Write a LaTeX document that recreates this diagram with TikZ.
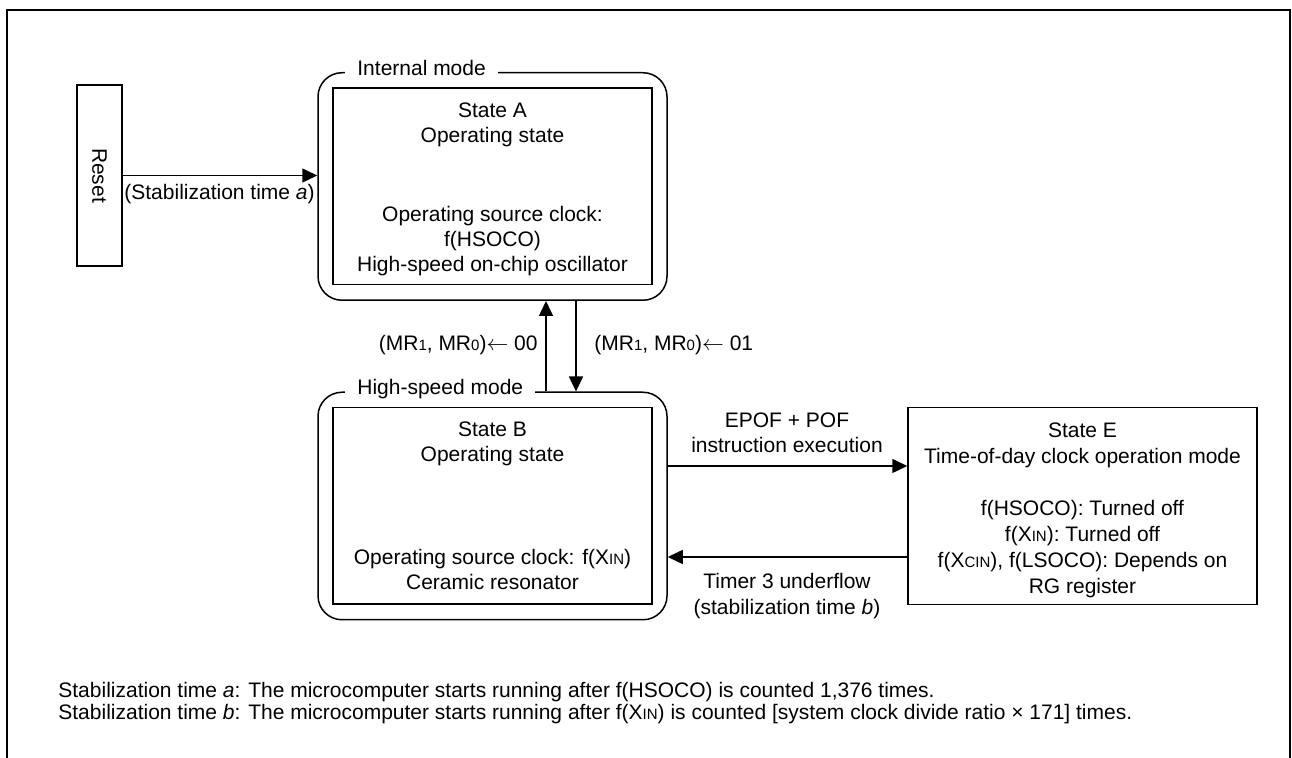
\documentclass[tikz,border=0pt]{standalone}
\usepackage{fontspec}
\setmainfont{Liberation Sans}
\usetikzlibrary{arrows.meta}
\newcommand{\lowsub}[1]{{\fontsize{7.5pt}{8pt}\selectfont #1}}

\begin{document}
\begin{tikzpicture}[x=0.5pt, y=-0.5pt,
  font=\fontsize{10.5pt}{12.5pt}\selectfont,
  every node/.style={inner sep=0pt},
  outerbox/.style={draw, line width=0.75pt, rounded corners=12pt, minimum width=174.5pt, minimum height=113.75pt},
  innerbox/.style={draw, line width=0.75pt, minimum width=159.5pt, minimum height=98.25pt},
  modelabel/.style={fill=white, inner xsep=6pt, inner ysep=1pt, anchor=base west},
  arr/.style={-{Triangle[length=7.5pt, width=7pt]}, line width=0.75pt},
  txt/.style={align=center, anchor=base}]
  \useasboundingbox (0,0) rectangle (1292,758);
  \draw[line width=1pt] (7,758) -- (7,10) -- (1290,10) -- (1290,758);

  \node[draw, line width=0.75pt, rotate=-90, minimum width=90.5pt, minimum height=22.5pt] (reset) at (99.5,175.5) {Reset};

  \node[outerbox] (Aout) at (492.5,186.5) {};
  \node[innerbox] (Ain) at (Aout.center) {};
  \node[modelabel] (Alabel) at (345,76) {Internal mode};
  \node[txt] (Atitle) at (492.5,143) {State A\\Operating state};
  \node[txt] (Aclock) at (492.5,272) {Operating source clock:\\f(HSOCO)\\High-speed on-chip oscillator};

  \node[outerbox] (Bout) at (492.5,506) {};
  \node[innerbox] (Bin) at (Bout.center) {};
  \node[modelabel] (Blabel) at (345,395) {High-speed mode};
  \node[txt] (Btitle) at (492.5,462) {State B\\Operating state};
  \node[txt] (Bclock) at (492.5,590) {Operating source clock: f(X\lowsub{IN})\\Ceramic resonator};

  \node[draw, line width=0.75pt, minimum width=174.5pt, minimum height=98.5pt] (E) at (1082.5,506) {};
  \node[txt, font=\fontsize{10.5pt}{13pt}\selectfont] (Etxt) at (1082.5,594) {State E\\Time-of-day clock operation mode\\[13pt]f(HSOCO): Turned off\\f(X\lowsub{IN}): Turned off\\f(X\lowsub{CIN}), f(LSOCO): Depends on\\RG register};

  \draw[arr] (reset.north) -- (reset.north -| Aout.west);
  \node[anchor=base west] (stablbl) at (124,200) {(Stabilization time \textit{a})};

  \draw[arr] ([xshift=26.75pt]Bout.north) -- ([xshift=26.75pt]Aout.south);
  \draw[arr] ([xshift=41.75pt]Aout.south) -- ([xshift=41.75pt]Bout.north);
  \node[anchor=base east] (mr00) at (538,351) {(MR\lowsub{1}, MR\lowsub{0})$\leftarrow$ 00};
  \node[anchor=base west] (mr01) at (594,351) {(MR\lowsub{1}, MR\lowsub{0})$\leftarrow$ 01};

  \draw[arr] ([yshift=20pt]Bout.east) -- ([yshift=20pt]E.west);
  \node[txt] (epof) at (787,453) {EPOF + POF\\instruction execution};
  \draw[arr] ([yshift=-25.5pt]E.west) -- ([yshift=-25.5pt]Bout.east);
  \node[txt, font=\fontsize{10.5pt}{13pt}\selectfont] (timer) at (787,615) {Timer 3 underflow\\(stabilization time \textit{b})};

  \node[anchor=base west, align=left, font=\fontsize{10.5pt}{11pt}\selectfont] (notes) at (58,720) {Stabilization time \textit{a}: The microcomputer starts running after f(HSOCO) is counted 1,376 times.\\Stabilization time \textit{b}: The microcomputer starts running after f(X\lowsub{IN}) is counted [system clock divide ratio × 171] times.};
\end{tikzpicture}
\end{document}
